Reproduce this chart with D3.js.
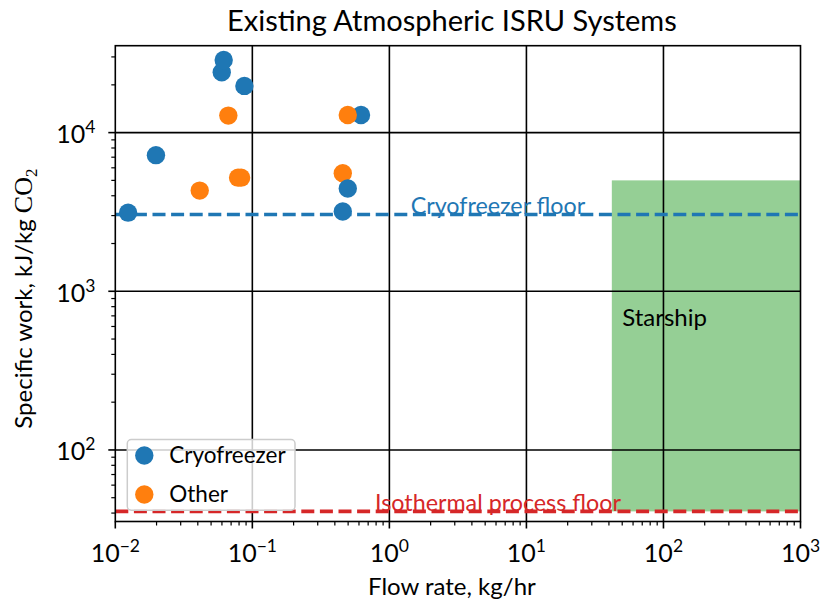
<!DOCTYPE html>
<html>
<head>
<meta charset="utf-8">
<script src="https://cdn.jsdelivr.net/npm/d3@7"></script>
<style>
  body { margin: 0; background: #fff; }
  text { font-family: Lato, "Noto Sans", sans-serif; }
</style>
</head>
<body>
<svg id="chart" width="824" height="605"></svg>
<script>
// Existing atmospheric ISRU systems: flow rate vs specific work per kg of CO2.
// Points are listed in drawing order (later points sit on top).
const flowRate     = [0.0124, 0.0198, 0.0598, 0.0618, 0.0875, 0.621, 0.0413, 0.0668, 0.0787, 0.0828, 0.497, 0.457, 0.497, 0.457];
const specificWork = [3130,   7210,   24000,  28700,  19700,  12900, 4310,   12800,  5200,   5200,   12900, 5550,  4440,  3180];
const systemType   = ["Cryofreezer", "Cryofreezer", "Cryofreezer", "Cryofreezer", "Cryofreezer", "Cryofreezer",
                      "Other", "Other", "Other", "Other", "Other", "Other", "Cryofreezer", "Cryofreezer"];

const typeNames  = ["Cryofreezer", "Other"];
const typeColors = ["#1f77b4", "#ff7f0e"];

// Reference floors (kJ/kg CO2)
const floorNames  = ["Cryofreezer floor", "Isothermal process floor"];
const floorValues = [3050, 41];
const floorColors = ["#1f77b4", "#d62728"];
const floorLabelX = 6.2;

// Starship requirement region: flow rate range, specific work range
const starshipFlow = [42, 1000];
const starshipWork = [41, 5000];
const starshipLabel = { text: "Starship", flow: 50, work: 600 };

// Axes
const xDomain = [1e-2, 1e3];
const yDomain = [35.4, 35300];
const xTickExps = [-2, -1, 0, 1, 2, 3];
const yTickExps = [2, 3, 4];

const plot = { left: 115.3, right: 800.5, top: 45.7, bottom: 521.5 };

const svg = d3.select("#chart");
const x = d3.scaleLog().domain(xDomain).range([plot.left, plot.right]);
const y = d3.scaleLog().domain(yDomain).range([plot.bottom, plot.top]);

const color = d3.scaleOrdinal().domain(typeNames).range(typeColors);

// Starship region
svg.append("rect")
  .attr("x", x(starshipFlow[0]))
  .attr("y", y(starshipWork[1]))
  .attr("width", x(starshipFlow[1]) - x(starshipFlow[0]))
  .attr("height", y(starshipWork[0]) - y(starshipWork[1]))
  .attr("fill", "#2ca02c")
  .attr("fill-opacity", 0.5);

// Gridlines at major ticks
const grid = svg.append("g").attr("stroke", "#000").attr("stroke-width", 1.6);
grid.selectAll("line.gx").data(xTickExps.slice(1, -1)).join("line")
  .attr("x1", d => x(Math.pow(10, d))).attr("x2", d => x(Math.pow(10, d)))
  .attr("y1", plot.top).attr("y2", plot.bottom);
grid.selectAll("line.gy").data(yTickExps).join("line")
  .attr("y1", d => y(Math.pow(10, d))).attr("y2", d => y(Math.pow(10, d)))
  .attr("x1", plot.left).attr("x2", plot.right);

// Starship label
svg.append("text")
  .attr("x", x(starshipLabel.flow))
  .attr("y", y(starshipLabel.work))
  .attr("font-size", 24)
  .attr("fill", "#000")
  .text(starshipLabel.text);

// Floor lines and their labels
floorValues.forEach((v, i) => {
  svg.append("line")
    .attr("x1", plot.left).attr("x2", plot.right)
    .attr("y1", y(v)).attr("y2", y(v))
    .attr("stroke", floorColors[i])
    .attr("stroke-width", 3.6)
    .attr("stroke-dasharray", "13,5.6");
  svg.append("text")
    .attr("x", x(floorLabelX))
    .attr("y", y(v))
    .attr("text-anchor", "middle")
    .attr("font-size", 23.3)
    .attr("fill", floorColors[i])
    .text(floorNames[i]);
});

// Scatter points
const pts = flowRate.map((f, i) => ({ flow: f, work: specificWork[i], type: systemType[i] }));
svg.append("g").selectAll("circle").data(pts).join("circle")
  .attr("cx", d => x(d.flow))
  .attr("cy", d => y(d.work))
  .attr("r", 9.2)
  .attr("fill", d => color(d.type));

// Frame
svg.append("rect")
  .attr("x", plot.left).attr("y", plot.top)
  .attr("width", plot.right - plot.left).attr("height", plot.bottom - plot.top)
  .attr("fill", "none").attr("stroke", "#000").attr("stroke-width", 1.6);

// Log ticks (major + minor)
function minorValues(domain) {
  const vals = [];
  const lo = Math.floor(Math.log10(domain[0])), hi = Math.ceil(Math.log10(domain[1]));
  for (let e = lo; e < hi; e++) {
    for (let m = 2; m <= 9; m++) {
      const v = m * Math.pow(10, e);
      if (v >= domain[0] && v <= domain[1]) vals.push(v);
    }
  }
  return vals;
}

function powerLabel(sel, exp) {
  sel.append("tspan").text("10");
  sel.append("tspan")
    .attr("dy", -10)
    .attr("font-size", "0.7em")
    .text(exp < 0 ? "\u2212" + (-exp) : String(exp));
}

const ticks = svg.append("g").attr("stroke", "#000");
// x axis
ticks.selectAll("line.xM").data(xTickExps).join("line")
  .attr("x1", d => x(Math.pow(10, d))).attr("x2", d => x(Math.pow(10, d)))
  .attr("y1", plot.bottom).attr("y2", plot.bottom + 7).attr("stroke-width", 1.6);
ticks.selectAll("line.xm").data(minorValues(xDomain)).join("line")
  .attr("x1", d => x(d)).attr("x2", d => x(d))
  .attr("y1", plot.bottom).attr("y2", plot.bottom + 4).attr("stroke-width", 1.2);
// y axis
ticks.selectAll("line.yM").data(yTickExps).join("line")
  .attr("y1", d => y(Math.pow(10, d))).attr("y2", d => y(Math.pow(10, d)))
  .attr("x1", plot.left - 7).attr("x2", plot.left).attr("stroke-width", 1.6);
ticks.selectAll("line.ym").data(minorValues(yDomain)).join("line")
  .attr("y1", d => y(d)).attr("y2", d => y(d))
  .attr("x1", plot.left - 4).attr("x2", plot.left).attr("stroke-width", 1.2);

xTickExps.forEach(e => {
  const t = svg.append("text")
    .attr("x", x(Math.pow(10, e)))
    .attr("y", plot.bottom + 40)
    .attr("text-anchor", "middle")
    .attr("font-size", 25)
    .attr("fill", "#000");
  powerLabel(t, e);
});
yTickExps.forEach(e => {
  const t = svg.append("text")
    .attr("x", plot.left - 20)
    .attr("y", y(Math.pow(10, e)) + 10.5)
    .attr("text-anchor", "end")
    .attr("font-size", 25)
    .attr("fill", "#000");
  powerLabel(t, e);
});

// Axis titles
svg.append("text")
  .attr("x", (plot.left + plot.right) / 2 - 6)
  .attr("y", 595)
  .attr("text-anchor", "middle")
  .attr("font-size", 24)
  .text("Flow rate, kg/hr");

const yl = svg.append("text")
  .attr("transform", `translate(31.5, ${(plot.top + plot.bottom) / 2 + 15}) rotate(-90)`)
  .attr("text-anchor", "middle")
  .attr("font-size", 24);
yl.append("tspan").text("Specific work, kJ/kg ");
yl.append("tspan").style("font-family", '"Liberation Serif", serif').attr("font-size", 26).text("CO");
yl.append("tspan").style("font-family", '"Liberation Serif", serif').attr("font-size", 17).attr("dy", 5).text("2");

// Title
svg.append("text")
  .attr("x", (plot.left + plot.right) / 2 - 6)
  .attr("y", 31)
  .attr("text-anchor", "middle")
  .attr("font-size", 29)
  .text("Existing Atmospheric ISRU Systems");

// Legend
const lg = svg.append("g").attr("transform", `translate(${plot.left + 12}, ${plot.bottom - 82})`);
lg.append("rect")
  .attr("width", 167.7).attr("height", 70.7)
  .attr("rx", 4).attr("ry", 4)
  .attr("fill", "#fff").attr("fill-opacity", 0.8)
  .attr("stroke", "#cccccc").attr("stroke-width", 1.5);
typeNames.forEach((n, i) => {
  lg.append("circle")
    .attr("cx", 17).attr("cy", 16 + i * 39)
    .attr("r", 9.2)
    .attr("fill", typeColors[i]);
  lg.append("text")
    .attr("x", 42).attr("y", 23.5 + i * 39)
    .attr("font-size", 22.5)
    .text(n);
});
</script>
</body>
</html>
